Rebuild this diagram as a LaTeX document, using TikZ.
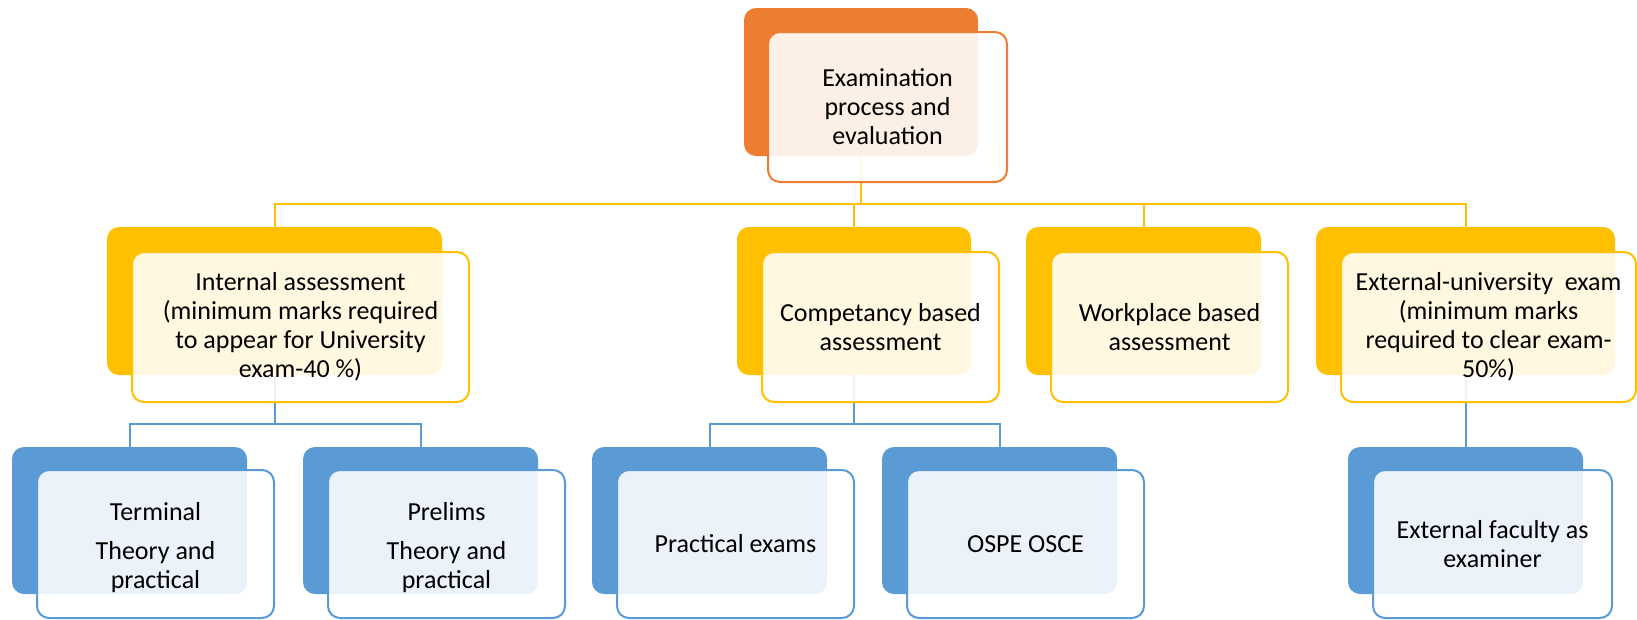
\documentclass[tikz,border=0pt]{standalone}
\usepackage{fontspec}
\setmainfont{Carlito}
\definecolor{org}{HTML}{ED7D31}
\definecolor{yel}{HTML}{FFC000}
\definecolor{blu}{HTML}{5B9BD5}
\begin{document}
\begin{tikzpicture}[x=1pt,y=-1pt,
  bk/.style={draw=none, fill=#1, rounded corners=12pt, anchor=north west, inner sep=0pt, outer sep=0pt},
  fr/.style={draw=#1, line width=2pt, fill=white, fill opacity=0.88, text opacity=1, rounded corners=12pt, anchor=north west, align=center, inner sep=0pt, outer sep=0pt, font=\fontsize{26}{29}\selectfont},
  yline/.style={draw=yel, line width=2pt},
  bline/.style={draw=blu, line width=2pt}]
\useasboundingbox (0,0) rectangle (1637,619);
% back boxes
\node[bk=org, minimum width=234pt, minimum height=148pt] (topB) at (744,8) {};
\node[bk=yel, minimum width=335pt, minimum height=148pt] (intB) at (107,227) {};
\node[bk=yel, minimum width=234pt, minimum height=148pt] (comB) at (737,227) {};
\node[bk=yel, minimum width=235pt, minimum height=148pt] (wrkB) at (1026,227) {};
\node[bk=yel, minimum width=299pt, minimum height=148pt] (extB) at (1316,227) {};
\node[bk=blu, minimum width=235pt, minimum height=147pt] (terB) at (12,447) {};
\node[bk=blu, minimum width=235pt, minimum height=147pt] (preB) at (303,447) {};
\node[bk=blu, minimum width=235pt, minimum height=147pt] (praB) at (592,447) {};
\node[bk=blu, minimum width=235pt, minimum height=147pt] (ospB) at (882,447) {};
\node[bk=blu, minimum width=235pt, minimum height=147pt] (efB) at (1348,447) {};
% connectors
\coordinate (bus1) at (0,204);
\coordinate (bus2) at (0,424);
\draw[yline] (topB.south) -- (topB.south |- bus1);
\draw[yline] (intB.north) -- (intB.north |- bus1) -- (extB.north |- bus1) -- (extB.north);
\draw[yline] (comB.north |- bus1) -- (comB.north);
\draw[yline] (wrkB.north |- bus1) -- (wrkB.north);
\draw[bline] (intB.south) -- (intB.south |- bus2);
\draw[bline] (terB.north) -- (terB.north |- bus2) -- (preB.north |- bus2) -- (preB.north);
\draw[bline] (comB.south) -- (comB.south |- bus2);
\draw[bline] (praB.north) -- (praB.north |- bus2) -- (ospB.north |- bus2) -- (ospB.north);
\draw[bline] (extB.south) -- (efB.north);
% front boxes
\node[fr=org, minimum width=239pt, minimum height=150pt] (topF) at (768,32) {Examination\\process and\\evaluation};
\node[fr=yel, minimum width=337pt, minimum height=150pt] (intF) at (132,252) {Internal assessment\\(minimum marks required\\to appear for University\\exam-40 \%)};
\node[fr=yel, minimum width=237pt, minimum height=150pt] (comF) at (762,252) {Competancy based\\assessment};
\node[fr=yel, minimum width=237pt, minimum height=150pt] (wrkF) at (1051,252) {Workplace based\\assessment};
\node[fr=yel, minimum width=295pt, minimum height=150pt] (extF) at (1341,252) {External-university~ exam\\(minimum marks\\required to clear exam-\\50\%)};
\node[fr=blu, minimum width=237pt, minimum height=148pt] (terF) at (37,470) {\begin{tabular}{@{}c@{}}\rule{0pt}{30pt}Terminal\\[10pt]Theory and\\practical\end{tabular}};
\node[fr=blu, minimum width=237pt, minimum height=148pt] (preF) at (328,470) {\begin{tabular}{@{}c@{}}\rule{0pt}{30pt}Prelims\\[10pt]Theory and\\practical\end{tabular}};
\node[fr=blu, minimum width=237pt, minimum height=148pt] (praF) at (617,470) {Practical exams};
\node[fr=blu, minimum width=237pt, minimum height=148pt] (ospF) at (907,470) {OSPE OSCE};
\node[fr=blu, minimum width=239pt, minimum height=148pt] (efF) at (1373,470) {External faculty as\\examiner};
\end{tikzpicture}
\end{document}
